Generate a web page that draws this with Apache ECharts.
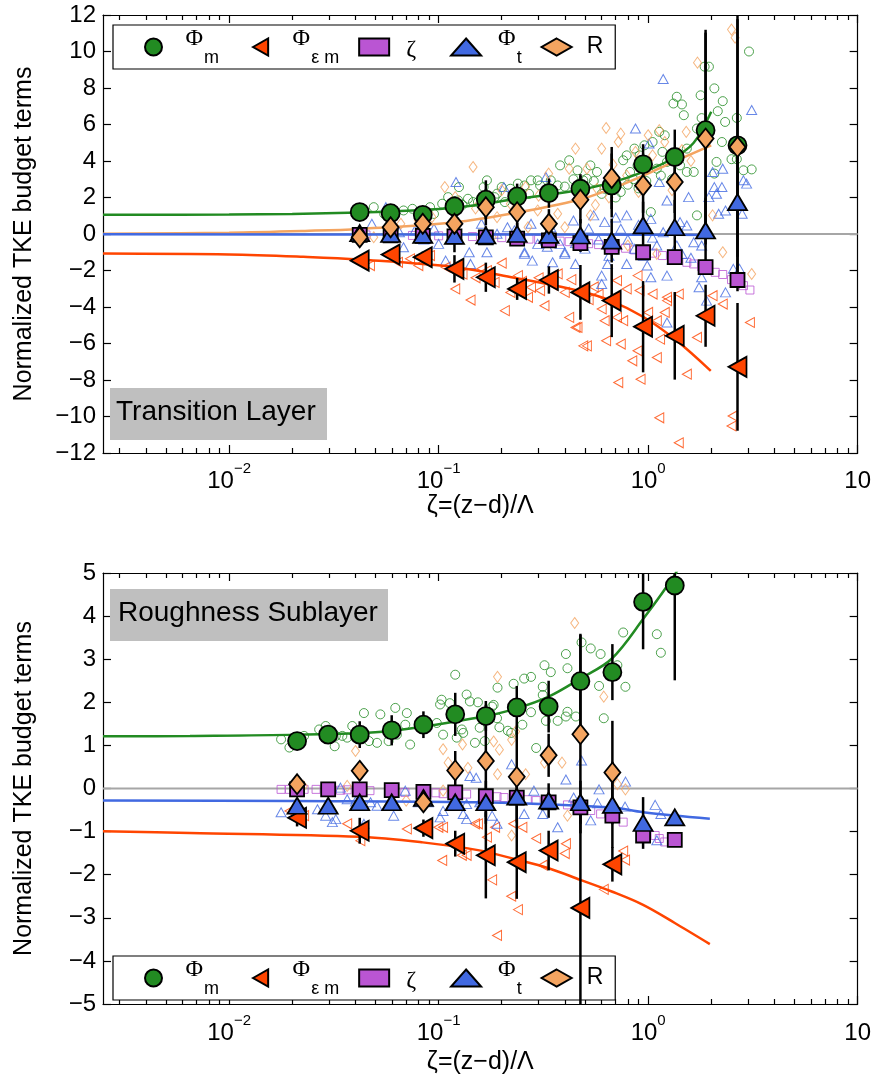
<!DOCTYPE html>
<html>
<head>
<meta charset="utf-8">
<script src="https://cdn.jsdelivr.net/npm/echarts@6/dist/echarts.min.js"></script>
<style>
html, body { margin: 0; padding: 0; background: #fff; }
#chart { width: 874px; height: 1089px; }
</style>
</head>
<body>
<div id="chart"></div>
<script>
// ---------- data: Transition Layer (top panel) ----------
const zetaTL = [0.042, 0.059, 0.084, 0.119, 0.168, 0.237, 0.336, 0.475, 0.67, 0.946, 1.34, 1.88, 2.67];
const phiM_TL = [1.2, 1.14, 1.05, 1.51, 1.88, 2.06, 2.24, 2.48, 2.66, 3.82, 4.22, 5.69, 4.86];
const phiEM_TL = [-1.46, -1.13, -1.27, -1.91, -2.37, -3.01, -2.52, -3.2, -3.65, -5.08, -5.58, -4.48, -7.28];
const zetaTerm_TL = [-0.05, -0.07, -0.1, -0.13, -0.18, -0.25, -0.35, -0.5, -0.7, -1.0, -1.27, -1.82, -2.52];
const phiT_TL = [0.05, 0.0, -0.05, -0.1, -0.08, 0.0, -0.05, -0.08, -0.36, 0.47, 0.37, 0.19, 1.75];
const R_TL = [-0.18, 0.37, 0.56, 0.56, 1.47, 1.2, 0.56, 1.88, 3.07, 2.66, 2.85, 5.23, 4.77];

const errM_TL = [0.2, 0.2, 0.25, 0.55, 1.06, 0.7, 0.8, 0.8, 1.75, 1.1, 1.5, 5.5, 8];
const errEM_TL = [0.2, 0.2, 0.3, 0.75, 0.8, 0.6, 0.75, 1.5, 2.0, 2.5, 2.4, 1.7, 3.5];
const errT_TL = [0.3, 0.3, 0.3, 0.9, 0.5, 0.6, 0.7, 0.9, 1.2, 1.3, 1.5, 1.8, 3.0];
const errR_TL = [0.3, 0.3, 0.4, 0.6, 1.0, 0.8, 0.8, 1.3, 1.7, 1.5, 1.7, 5.8, 7.0];

const ptsM_TL = [[0.049,1.47],[0.061,1.29],[0.068,1.29],[0.075,1.38],[0.091,1.47],[0.104,1.66],[0.111,2.02],[0.124,1.84],[0.125,2.57],[0.138,1.93],[0.146,1.75],[0.154,1.75],[0.164,2.57],[0.17,2.94],[0.185,2.02],[0.19,2.21],[0.2,2.57],[0.207,1.75],[0.22,2.48],[0.239,2.76],[0.257,2.66],[0.276,2.94],[0.297,2.94],[0.305,2.66],[0.343,2.94],[0.37,2.66],[0.38,3.76],[0.42,4.04],[0.46,3.49],[0.49,2.94],
  [1.86,9.17],[1.95,9.17],[2.07,7.98],[1.78,7.6],[2.27,7.28],[2.15,6.73],[2.33,6.14],[2.65,6.36],[1.8,6.35],[2.25,5.04],[2.5,4.1],[2.65,4.1],[2.85,3.49],[3.12,3.54],[3.03,10.0],[1.37,7.52],[1.45,7.1],[1.32,7.15],[1.48,6.51],[1.13,5.6],[1.05,5.04],[1.2,5.41],[0.96,4.86],[0.91,4.31],[1.53,4.68],[1.65,3.4],[1.53,3.4],[1.42,3.76],[1.23,3.95],[1.1,3.58],[1.03,1.2],[1.71,1.02],[2.12,3.95],[2.07,3.31],[0.82,3.4],[0.76,4.04],[0.79,4.31],[0.86,4.68],[0.89,3.76],[0.71,2.66],[0.57,3.4],[0.53,3.76],[0.51,3.03],[0.62,2.48],[0.74,2.3],[1.17,4.5],[1.71,5.78],
  [0.55,2.9],[0.6,2.2],[0.66,3.1],[0.7,2.0],[0.8,2.7],[0.85,3.0],[0.9,2.5],[0.98,2.9],[1.15,3.2],[1.3,3.0],[0.4,2.6],[0.44,3.0],[0.33,2.5],[0.27,2.2],[0.16,2.0],[0.13,1.6],[0.085,1.2],[0.095,1.1],[0.055,1.1]];
const ptsEM_TL = [[0.047,-1.73],[0.064,-1.55],[0.073,-1.36],[0.08,-1.73],[0.091,-1.18],[0.108,-1.82],[0.12,-3.01],[0.142,-3.62],[0.17,-2.0],[0.185,-2.65],[0.2,-1.6],[0.207,-4.2],[0.22,-3.2],[0.239,-2.28],[0.267,-3.47],[0.276,-2.92],[0.305,-3.1],[0.32,-3.93],[0.37,-2.19],[0.4,-3.2],[0.42,-4.57],[0.45,-5.12],[0.46,-5.12],[0.49,-6.13],[0.51,-6.13],[0.63,-5.85],[0.74,-6.03],[0.72,-8.14],[0.84,-6.95],[0.89,-6.4],[0.92,-7.96],[1.1,-6.77],[1.13,-10.07],[1.14,-5.76],[1.2,-4.3],[1.23,-3.65],[1.4,-3.29],[1.53,-7.68],[1.71,-5.67],[2.03,-3.38],[2.27,-3.84],[2.53,-9.97],[2.5,-10.52],[1.4,-11.44],[3.06,-4.85],[0.89,-2.28],[0.71,-2.55],[0.79,-3.01],[0.6,-4.11],[0.71,-4.57],[0.91,-3.1],[1.0,-4.3],[1.1,-4.75],[1.23,-3.47],[1.05,-3.29],[0.76,-4.75],[0.62,-4.75],
  [0.13,-2.2],[0.15,-2.4],[0.16,-1.9],[0.25,-2.6],[0.3,-2.4],[0.35,-2.8],[0.43,-2.5],[0.55,-2.9],[0.58,-3.3],[0.52,-3.6]];
const ptsZ_TL = [[0.045,-0.05],[0.06,-0.06],[0.075,-0.08],[0.1,-0.1],[0.12,-0.12],[0.145,-0.14],[0.17,-0.17],[0.2,-0.2],[0.23,-0.23],[0.27,-0.28],[0.3,-0.3],[0.34,-0.34],[0.38,-0.39],[0.42,-0.42],[0.47,-0.47],[0.52,-0.53],[0.58,-0.58],[0.64,-0.64],[0.7,-0.7],[0.78,-0.78],[0.86,-0.87],[0.95,-0.95],[1.05,-1.05],[1.17,-1.18],[1.3,-1.3],[1.53,-1.55],[1.65,-1.64],[1.8,-1.8],[2.09,-2.1],[2.27,-2.22],[2.5,-2.5],[2.85,-2.83],[3.06,-3.07]];
const ptsT_TL = [[1.18,8.49],[3.12,6.79],[0.87,5.78],[1.01,4.96],[2.03,3.4],[2.27,3.58],[2.85,2.94],[2.95,2.76],[2.07,2.57],[2.25,2.57],[1.95,2.02],[2.12,2.21],[1.56,2.02],[2.34,1.29],[2.81,1.11],[2.17,1.11],[1.23,1.84],[1.13,2.85],[0.79,1.02],[0.55,1.02],[1.03,0.83],[1.42,0.65],[1.53,0.47],[1.65,-0.45],[1.8,-0.63],[1.18,0.1],[0.74,0.29],[0.62,0.65],[1.1,-0.63],[1.37,-0.63],[0.69,-0.63],[0.86,-0.81],[2.55,-1.91],[2.73,-1.91],[2.34,-3.2],[1.9,-3.65],[1.75,-2.92],[1.8,-2.37],[1.23,-2.28],[1.03,-2.37],[0.99,-1.73],[1.23,-4.85],[0.79,-1.64],[0.6,-2.74],[0.6,-2.28],[0.64,-1.64],[0.121,2.85],[0.048,0.56],[0.056,1.47],[0.068,-0.73],[0.1,-0.54],[0.121,0.1],[0.14,-1.0],[0.17,-1.0],[0.19,0.01],[0.205,2.57],[0.213,0.37],[0.257,-1.0],[0.276,0.56],[0.297,-0.54],[0.325,3.12],[0.343,0.37],[0.4,-1.0],[0.44,0.74],[0.077,0.19],[0.16,0.56],[0.239,-0.36],[0.38,-0.54],[0.108,-1.46],[0.142,-1.64],[0.28,-1.46],[0.35,-1.55],[0.45,-1.64],[0.257,-1.09],[0.4,-1.09],
  [0.5,-0.8],[0.52,0.3],[0.58,-0.3],[0.65,-1.2],[0.7,0.9],[0.8,-0.3],[0.9,0.5],[0.95,-1.2],[1.05,-0.2],[1.3,-1.4],[1.45,-1.1],[1.6,-1.3],[0.45,-0.5],[0.33,-0.7],[0.23,0.2],[0.065,0.1],[0.085,-0.3],[0.095,0.3]];
const ptsR_TL = [[2.5,11.2],[2.6,10.76],[1.72,9.39],[0.63,5.81],[0.74,5.5],[0.72,5.04],[0.6,4.68],[1.0,5.41],[1.2,5.04],[1.13,5.69],[0.87,4.5],[1.52,5.6],[0.51,3.58],[0.79,3.21],[1.05,4.31],[2.27,-1.0],[2.03,1.02],[0.8,-0.63],[0.57,2.48],[0.53,1.02],[3.12,-2.19],[1.1,-1.09],[0.146,3.67],[0.107,2.57],[0.45,4.68],[0.42,3.58],[0.335,3.31],[0.12,2.02],[0.19,0.92],[0.22,1.66],[0.26,2.57],[0.297,1.29],[0.37,1.11],[0.049,-0.18],[0.066,0.56],[0.08,0.74],[0.18,-0.18],[0.267,0.37],[0.4,0.37],[0.093,0.92],
  [0.65,2.0],[0.68,3.8],[0.9,2.3],[0.95,3.6],[1.3,2.4],[1.6,4.0],[1.45,4.6],[0.56,1.6],[0.46,2.6],[0.3,2.1],[0.2,2.4],[0.15,1.4]];

const fitM_TL = [[0.0025,1.05],[0.01,1.07],[0.02,1.1],[0.042,1.18],[0.08,1.3],[0.12,1.45],[0.23,1.9],[0.46,2.4],[0.66,2.8],[0.95,3.4],[1.32,4.15],[1.65,5.0],[2.0,6.7]];
const fitR_TL = [[0.0025,0.02],[0.01,0.07],[0.023,0.17],[0.042,0.28],[0.12,0.65],[0.23,1.15],[0.46,1.85],[0.66,2.45],[0.95,3.2],[1.32,3.95],[2.0,4.86]];
const fitT_TL = [[0.0025,-0.02],[0.1,-0.03],[1.0,-0.04],[2.0,-0.06]];
const fitEM_TL = [[0.0025,-1.07],[0.01,-1.12],[0.0226,-1.25],[0.042,-1.4],[0.12,-1.82],[0.23,-2.4],[0.46,-3.1],[0.66,-3.65],[0.95,-4.55],[1.37,-5.85],[1.99,-7.5]];

// ---------- data: Roughness Sublayer (bottom panel) ----------
const zetaRS = [0.0211, 0.0297, 0.042, 0.0597, 0.0846, 0.12, 0.168, 0.236, 0.335, 0.475, 0.675, 0.946, 1.34];
const phiM_RS = [1.1, 1.25, 1.25, 1.35, 1.48, 1.72, 1.68, 1.88, 1.9, 2.49, 2.7, 4.33, 4.71];
const phiEM_RS = [-0.68, null, -0.98, null, -0.92, -1.28, -1.55, -1.71, -1.44, -2.77, -1.76, null, null];
const zetaTerm_RS = [-0.02, -0.02, -0.02, -0.04, -0.08, -0.09, -0.18, -0.21, -0.32, -0.44, -0.63, -1.09, -1.19];
const phiT_RS = [-0.4, -0.4, -0.32, -0.32, -0.22, -0.32, -0.32, -0.19, -0.28, -0.32, -0.38, -0.8, -0.67];
const R_RS = [0.1, null, 0.41, null, -0.32, 0.42, 0.64, 0.27, 0.77, 1.26, 0.37, null, null];

const errM_RS = [0.1, 0.1, 0.31, 0.35, 0.31, 0.5, 0.35, 0.5, 0.6, 1.1, 0.65, 1.1, 2.2];
const errEM_RS = [0.2, null, 0.3, null, 0.2, 0.3, 1.0, 0.85, 0.46, 2.4, 0.4, null, null];
const errT_RS = [0.1, 0.1, 0.1, 0.1, 0.1, 0.2, 0.5, 0.6, 0.4, 0.5, 1.0, 0.6, 0.1];
const errR_RS = [0.1, null, 0.15, null, 0.2, 0.45, 1.3, 1.15, 0.5, 2.3, 1.2, null, null];

const ptsM_RS = [[0.0177,1.14],[0.0194,0.95],[0.0228,1.22],[0.0269,1.37],[0.0289,1.45],[0.0323,1.22],[0.0319,0.98],[0.0347,1.22],[0.0366,1.18],[0.0387,1.45],[0.0401,1.18],[0.044,1.75],[0.0465,1.1],[0.0508,1.06],[0.0527,1.72],[0.0577,1.1],[0.0621,1.87],[0.0632,1.25],[0.0693,1.48],[0.0705,1.75],[0.0731,1.02],[0.083,1.41],[0.098,1.52],[0.1016,1.95],[0.1033,2.06],[0.105,1.25],[0.113,1.98],[0.12,2.64],[0.122,1.18],[0.129,1.37],[0.131,1.29],[0.136,2.18],[0.141,2.02],[0.149,1.06],[0.154,2.0],[0.157,1.41],[0.166,1.1],
  [0.18,1.9],[0.183,1.94],[0.19,1.63],[0.191,2.34],[0.195,1.42],[0.214,1.34],[0.222,1.29],[0.228,2.43],[0.251,1.48],[0.256,2.55],[0.276,2.59],[0.276,1.77],[0.292,0.94],[0.314,2.36],[0.32,2.86],[0.343,2.7],[0.314,2.17],[0.325,1.57],[0.37,1.57],[0.405,1.67],[0.412,1.78],[0.412,2.79],[0.405,3.12],[0.452,1.67],[0.481,3.39],[0.532,3.25],[0.593,3.12],[0.583,2.38],[0.614,1.63],[0.713,2.86],[0.779,2.36],[0.76,3.62],[1.1,3.58],[1.15,3.15]];
const ptsEM_RS = [[0.0194,-0.52],[0.0228,-0.63],[0.0366,-0.82],[0.0423,-1.21],[0.0705,-0.94],[0.0997,-0.9],[0.105,-0.9],[0.149,-0.82],[0.104,-1.67],[0.129,-1.55],[0.136,-1.55],[0.154,-0.82],[0.186,-0.9],[0.227,-0.82],[0.251,-0.9],[0.17,-1.13],[0.292,-1.16],[0.314,-1.78],[0.405,-1.28],[0.4,-1.51],[0.18,-2.12],[0.222,-2.5],[0.239,-2.81],[0.19,-3.41],[0.614,-2.34],[0.76,-1.45],[0.776,-1.66]];
const ptsZ_RS = [[0.0177,-0.02],[0.0194,-0.02],[0.0228,-0.02],[0.026,-0.02],[0.03,-0.03],[0.034,-0.04],[0.0366,-0.03],[0.047,-0.05],[0.058,-0.06],[0.069,-0.09],[0.085,-0.09],[0.097,-0.1],[0.105,-0.12],[0.136,-0.13],[0.19,-0.19],[0.205,-0.21],[0.265,-0.26],[0.292,-0.28],[0.412,-0.38],[0.446,-0.4],[0.532,-0.51],[0.593,-0.59],[0.76,-0.78],[1.08,-1.09],[1.13,-1.16],[1.2,-1.24]];
const ptsT_RS = [[0.0177,-0.55],[0.0264,-0.48],[0.0289,-0.63],[0.0311,-0.78],[0.0323,-0.71],[0.034,0.02],[0.0366,-0.25],[0.0401,-0.3],[0.044,-0.82],[0.0473,-0.32],[0.0508,-0.4],[0.061,-0.63],[0.0693,-0.05],[0.0801,-0.32],[0.0893,-0.32],[0.1016,-0.67],[0.105,-0.52],[0.131,-0.59],[0.136,-0.71],[0.136,-0.36],[0.141,0.29],[0.151,0.25],[0.157,-0.32],[0.481,0.65],[0.405,0.21],[0.223,0.56],[0.78,0.16],[0.583,-0.02],[0.532,-0.74],[0.37,-0.9],[0.314,-0.59],[0.256,-0.59],[0.19,-0.82],[0.18,-0.63],[0.16,-0.28],[1.08,-0.38],[1.15,-0.59],[1.1,-1.2],[0.285,-0.05],[0.441,-0.21],[0.776,-0.42],[0.573,-0.34]];
const ptsR_RS = [[0.0401,0.87],[0.0366,0.06],[0.105,0.91],[0.111,0.6],[0.13,1.02],[0.138,0.48],[0.07,-0.28],[0.0226,0.06],[0.031,-0.02],[0.105,-0.05],[0.446,3.84],[0.191,2.59],[0.614,2.13],[0.183,1.09],[0.195,0.9],[0.223,1.13],[0.233,1.32],[0.32,0.6],[0.388,0.6],[0.191,0.33],[0.26,0.33],[0.713,0.1],[0.779,-0.02],[0.412,-0.63],[0.223,-1.09]];

const fitM_RS = [[0.0025,1.21],[0.0065,1.22],[0.0211,1.25],[0.0577,1.33],[0.16,1.66],[0.236,1.86],[0.335,2.13],[0.475,2.55],[0.67,3.01],[0.946,3.93],[1.34,4.96],[1.45,5.3]];
const fitT_RS = [[0.0025,-0.28],[0.02,-0.29],[0.154,-0.32],[0.67,-0.44],[0.946,-0.55],[1.97,-0.7]];
const fitEM_RS = [[0.0025,-0.99],[0.0065,-1.03],[0.042,-1.12],[0.084,-1.25],[0.154,-1.43],[0.236,-1.65],[0.335,-1.85],[0.475,-2.12],[0.67,-2.39],[0.946,-2.7],[1.34,-3.12],[1.97,-3.61]];

const X_MIN = 0.0025, X_MAX = 10;
const majorX = [0.01, 0.1, 1, 10];
const minorX = [];
[-3, -2, -1, 0].forEach(function (d) {
    for (let k = 2; k <= 9; k++) {
        const v = k * Math.pow(10, d);
        if (v > X_MIN && v < X_MAX) minorX.push(v);
    }
});

const C = { m: '#228B22', em: '#FF4500', z: '#BA55D3', t: '#4169E1', r: '#F4A460' };
const FONT = 'Liberation Sans, Arial, Helvetica, sans-serif';
const SERIF = 'Liberation Serif, DejaVu Serif, serif';

function pair(xs, ys) {
    return xs.map(function (x, i) { return ys[i] == null ? null : [x, ys[i]]; }).filter(Boolean);
}
function bars(xs, ys, es) {
    return xs.map(function (x, i) {
        return (ys[i] == null || es[i] == null) ? null : [x, ys[i] - es[i], ys[i] + es[i]];
    }).filter(Boolean);
}

function xAxes(g, labelMargin, nameGap) {
    const base = { type: 'log', logBase: 10, gridIndex: g, min: X_MIN, max: X_MAX, splitLine: { show: false } };
    const lineSt = { color: '#000', width: 1.2 };
    return [
        Object.assign({}, base, {
            position: 'bottom',
            axisLine: { show: true, onZero: false, lineStyle: lineSt },
            axisTick: { show: true, inside: true, length: 8, lineStyle: lineSt, customValues: majorX },
            axisLabel: {
                show: true, customValues: majorX, margin: labelMargin, color: '#000',
                formatter: function (v) {
                    const e = Math.round(Math.log10(v));
                    if (e === 1) return '{b|10}';
                    return '{b|10}{s|' + (e < 0 ? '\u2212' + (-e) : e) + '}';
                },
                rich: {
                    b: { fontSize: 24, fontFamily: FONT, color: '#000', lineHeight: 32, verticalAlign: 'bottom' },
                    s: { fontSize: 15, fontFamily: FONT, color: '#000', lineHeight: 32, verticalAlign: 'top' }
                }
            },
            name: '\u03b6=(z\u2212d)/\u039b',
            nameLocation: 'middle', nameGap: nameGap,
            nameTextStyle: { fontSize: 25, fontFamily: FONT, color: '#000' }
        }),
        Object.assign({}, base, {
            position: 'top',
            axisLine: { show: true, onZero: false, lineStyle: lineSt },
            axisTick: { show: true, inside: true, length: 8, lineStyle: lineSt, customValues: majorX },
            axisLabel: { show: false }
        }),
        Object.assign({}, base, {
            position: 'bottom',
            axisLine: { show: false, onZero: false },
            axisTick: { show: true, inside: true, length: 5, lineStyle: lineSt, customValues: minorX },
            axisLabel: { show: false }
        }),
        Object.assign({}, base, {
            position: 'top',
            axisLine: { show: false, onZero: false },
            axisTick: { show: true, inside: true, length: 5, lineStyle: lineSt, customValues: minorX },
            axisLabel: { show: false }
        })
    ];
}

function yAxes(g, min, max, step) {
    const lineSt = { color: '#000', width: 1.2 };
    return [
        {
            type: 'value', gridIndex: g, min: min, max: max, interval: step, position: 'left',
            axisLine: { show: true, onZero: false, lineStyle: lineSt },
            axisTick: { show: true, inside: true, length: 8, lineStyle: lineSt },
            axisLabel: {
                margin: 7, fontSize: 24, fontFamily: FONT, color: '#000',
                formatter: function (v) { return v < 0 ? '\u2212' + (-v) : String(v); }
            },
            splitLine: { show: false },
            name: 'Normalized TKE budget terms', nameLocation: 'middle', nameGap: 66,
            nameTextStyle: { fontSize: 25, fontFamily: FONT, color: '#000' }
        },
        {
            type: 'value', gridIndex: g, min: min, max: max, interval: step, position: 'right',
            axisLine: { show: true, onZero: false, lineStyle: lineSt },
            axisTick: { show: true, inside: true, length: 8, lineStyle: lineSt },
            axisLabel: { show: false },
            splitLine: { show: false }
        }
    ];
}

function small(name, pts, g, symbol, color, size, rot) {
    return {
        name: name, type: 'scatter', xAxisIndex: g * 4, yAxisIndex: g * 2, data: pts,
        symbol: symbol, symbolSize: size, symbolRotate: rot || 0, silent: true, z: 2,
        itemStyle: { color: 'rgba(255,255,255,0)', borderColor: color, borderWidth: 1 }
    };
}
function big(name, xs, ys, g, symbol, color, size, rot) {
    return {
        name: name, type: 'scatter', xAxisIndex: g * 4, yAxisIndex: g * 2, data: pair(xs, ys),
        symbol: symbol, symbolSize: size, symbolRotate: rot || 0, silent: true, z: 7,
        itemStyle: { color: color, borderColor: '#000', borderWidth: 1.8, opacity: 1 }
    };
}
function curve(pts, g, color) {
    return {
        type: 'line', xAxisIndex: g * 4, yAxisIndex: g * 2, data: pts, showSymbol: false,
        smooth: 0.35, silent: true, z: 3, clip: true,
        lineStyle: { color: color, width: 2.5 }
    };
}
function errSeries(data, g) {
    return {
        type: 'custom', xAxisIndex: g * 4, yAxisIndex: g * 2, data: data, clip: true, silent: true, z: 6,
        encode: { x: 0, y: [1, 2] },
        renderItem: function (params, api) {
            const a = api.coord([api.value(0), api.value(1)]);
            const b = api.coord([api.value(0), api.value(2)]);
            return { type: 'line', shape: { x1: a[0], y1: a[1], x2: b[0], y2: b[1] },
                     style: { stroke: '#000', lineWidth: 2.5 } };
        }
    };
}
function zeroLine(g) {
    return {
        type: 'line', xAxisIndex: g * 4, yAxisIndex: g * 2, data: [[X_MIN, 0], [X_MAX, 0]],
        showSymbol: false, silent: true, z: 2, lineStyle: { color: '#a6a6a6', width: 2 }
    };
}

// legend labels with subscripts; right padding on the last token spaces the entries out
const legendText = {
    '\u03a6m': '{p|\u03a6}{s1|m}',
    '\u03a6\u03b5m': '{p|\u03a6}{s2|\u03b5 m}',
    '\u03b6': '{z|\u03b6}',
    '\u03a6t': '{p|\u03a6}{s3|t}',
    'R': '{r|R}'
};
function legendAt(top) {
    const sub = { fontFamily: FONT, fontSize: 18, lineHeight: 40, verticalAlign: 'bottom', color: '#000' };
    return {
        data: [
            { name: '\u03a6m' },
            { name: '\u03a6\u03b5m', icon: 'path://M0,9L16,0L16,18Z' },
            { name: '\u03b6' },
            { name: '\u03a6t' },
            { name: 'R' }
        ],
        left: 113, top: top, orient: 'horizontal', selectedMode: false, z: 5,
        itemWidth: 30, itemHeight: 17, itemGap: 15,
        padding: [2, 12, 2, 31],
        borderColor: '#000', borderWidth: 1.2, backgroundColor: '#fff',
        formatter: function (n) { return legendText[n]; },
        textStyle: {
            color: '#000',
            rich: {
                p: { fontFamily: SERIF, fontSize: 24, lineHeight: 40, verticalAlign: 'top', padding: [0, 0, 0, 12], color: '#000' },
                s1: Object.assign({}, sub, { padding: [0, 18, 0, 1] }),
                s2: Object.assign({}, sub, { padding: [0, 4, 0, 1] }),
                s3: Object.assign({}, sub, { padding: [0, 4, 0, 1] }),
                z: { fontFamily: SERIF, fontSize: 24, lineHeight: 40, verticalAlign: 'middle', padding: [6, 19, 0, 12], color: '#000' },
                r: { fontFamily: FONT, fontSize: 23, lineHeight: 40, verticalAlign: 'middle', padding: [0, 0, 0, 10], color: '#000' }
            }
        }
    };
}

function panel(g, d) {
    return [
        small('m pts', d.ptsM, g, 'circle', C.m, 9),
        small('em pts', d.ptsEM, g, 'triangle', C.em, [10, 9], 90),
        small('z pts', d.ptsZ, g, 'rect', C.z, 8),
        small('t pts', d.ptsT, g, 'triangle', C.t, [10, 9]),
        small('r pts', d.ptsR, g, 'diamond', C.r, [8, 11]),
        zeroLine(g)
    ].concat(d.fits.map(function (f) { return curve(f[0], g, f[1]); }))
     .concat([errSeries([].concat(
        bars(d.x, d.M, d.eM), bars(d.x, d.EM, d.eEM), bars(d.x, d.T, d.eT), bars(d.x, d.R, d.eR)), g)])
     .concat([
        big('\u03a6m', d.x, d.M, g, 'circle', C.m, 18),
        big('\u03a6\u03b5m', d.x, d.EM, g, 'triangle', C.em, [20, 18], 90),
        big('\u03b6', d.x, d.Z, g, 'rect', C.z, 14),
        big('\u03a6t', d.x, d.T, g, 'triangle', C.t, [19, 16]),
        big('R', d.x, d.R, g, 'diamond', C.r, [16, 20])
     ]);
}

const series = [].concat(
    panel(0, {
        x: zetaTL, M: phiM_TL, EM: phiEM_TL, Z: zetaTerm_TL, T: phiT_TL, R: R_TL,
        eM: errM_TL, eEM: errEM_TL, eT: errT_TL, eR: errR_TL,
        ptsM: ptsM_TL, ptsEM: ptsEM_TL, ptsZ: ptsZ_TL, ptsT: ptsT_TL, ptsR: ptsR_TL,
        fits: [[fitM_TL, C.m], [fitR_TL, C.r], [fitT_TL, C.t], [fitEM_TL, C.em]]
    }),
    panel(1, {
        x: zetaRS, M: phiM_RS, EM: phiEM_RS, Z: zetaTerm_RS, T: phiT_RS, R: R_RS,
        eM: errM_RS, eEM: errEM_RS, eT: errT_RS, eR: errR_RS,
        ptsM: ptsM_RS, ptsEM: ptsEM_RS, ptsZ: ptsZ_RS, ptsT: ptsT_RS, ptsR: ptsR_RS,
        fits: [[fitM_RS, C.m], [fitT_RS, C.t], [fitEM_RS, C.em]]
    })
);

const chart = echarts.init(document.getElementById('chart'), null, { renderer: 'canvas' });
chart.setOption({
    animation: false,
    backgroundColor: '#fff',
    textStyle: { fontFamily: FONT },
    grid: [
        { left: 103, top: 15, width: 759, height: 438 },
        { left: 103, top: 573, width: 759, height: 431 }
    ],
    xAxis: xAxes(0, 8, 40).concat(xAxes(1, 9, 46)),
    yAxis: yAxes(0, -12, 12, 2).concat(yAxes(1, -5, 5, 1)),
    legend: [legendAt(25), legendAt(956)],
    graphic: [
        { type: 'rect', left: 110, top: 388, shape: { width: 217, height: 52 }, style: { fill: '#bfbfbf' }, z: 10 },
        { type: 'text', left: 116, top: 398, style: { text: 'Transition Layer', font: '28px ' + FONT, fill: '#000' }, z: 11 },
        { type: 'rect', left: 110, top: 589, shape: { width: 278, height: 52 }, style: { fill: '#bfbfbf' }, z: 10 },
        { type: 'text', left: 118, top: 599, style: { text: 'Roughness Sublayer', font: '28px ' + FONT, fill: '#000' }, z: 11 }
    ],
    series: series
});
window.addEventListener('resize', function () { chart.resize(); });
</script>
</body>
</html>
